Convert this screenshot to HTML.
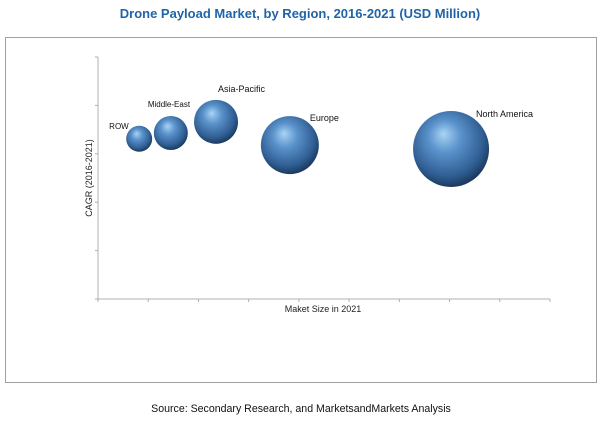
<!DOCTYPE html>
<html><head><meta charset="utf-8"><style>
body{margin:0;width:600px;height:420px;background:#fff;overflow:hidden;font-family:"Liberation Sans",sans-serif}
</style></head><body>
<svg id="chart" width="600" height="420" xmlns="http://www.w3.org/2000/svg">
<defs>
<radialGradient id="sph" cx="0.45" cy="0.4" r="0.6" fx="0.4" fy="0.3">
<stop offset="0" stop-color="#a9d4f5"/>
<stop offset="0.35" stop-color="#5b93cc"/>
<stop offset="0.8" stop-color="#2f5e93"/>
<stop offset="1" stop-color="#1c3a5e"/>
</radialGradient>
</defs>
<text x="300" y="18" text-anchor="middle" font-size="13" font-weight="bold" fill="#1f64a8">Drone Payload Market, by Region, 2016-2021 (USD Million)</text>
<rect x="5.5" y="37.5" width="591" height="345" fill="none" stroke="#a0a0a0"/>
<g id="axes"></g>
<g id="bubbles"></g>
<text x="323" y="312" text-anchor="middle" font-size="9" fill="#222">Maket Size in 2021</text>
<text transform="translate(92,178) rotate(-90)" text-anchor="middle" font-size="9" fill="#222">CAGR (2016-2021)</text>
<text x="301" y="412" text-anchor="middle" font-size="10.6" fill="#111">Source: Secondary Research, and MarketsandMarkets Analysis</text>
</svg>
<script>
const regions=["ROW","Middle-East","Asia-Pacific","Europe","North America"];
const marketSize=[0.82,1.45,2.35,3.82,7.03];
const cagr=[3.31,3.43,3.66,3.18,3.10];
const bubbleSize=[13,17,22,29,38];
const xTicks=[0,1,2,3,4,5,6,7,8,9];
const yTicks=[0,1,2,3,4,5];
const NS="http://www.w3.org/2000/svg";
const x0=98,x1=550,y0=299,y1=57;
const xs=v=>x0+(v-0)/(9-0)*(x1-x0);
const ys=v=>y0-(v-0)/(5-0)*(y0-y1);
function mk(t,a,p){const e=document.createElementNS(NS,t);for(const k in a)e.setAttribute(k,a[k]);p.appendChild(e);return e;}
const ax=document.getElementById('axes');
let l=mk('line',{x1:x0,y1:y0,x2:x1,y2:y0,stroke:'#b0b0b0'},ax);


l=mk('line',{x1:x0,y1:y0,x2:x0,y2:y1,stroke:'#b0b0b0'},ax);


xTicks.forEach(t=>{const e=mk('line',{x1:xs(t),y1:y0,x2:xs(t),y2:y0+3,stroke:'#b0b0b0'},ax);

});
yTicks.forEach(t=>{const e=mk('line',{x1:x0-3,y1:ys(t),x2:x0,y2:ys(t),stroke:'#b0b0b0'},ax);

});
const bg=document.getElementById('bubbles');
const lblOff=[[-30,-10],[-23,-26],[2,-30],[20,-24],[25,-32]];
regions.forEach((r,i)=>{
const cx=xs(marketSize[i]),cy=ys(cagr[i]),rad=bubbleSize[i];
const c=mk('circle',{cx:cx,cy:cy,r:rad,fill:'url(#sph)'},bg);


const t=mk('text',{x:cx+lblOff[i][0],y:cy+lblOff[i][1],'font-size':i<2?8:9,fill:'#111'},bg);
t.textContent=r;


});
</script>
</body></html>
